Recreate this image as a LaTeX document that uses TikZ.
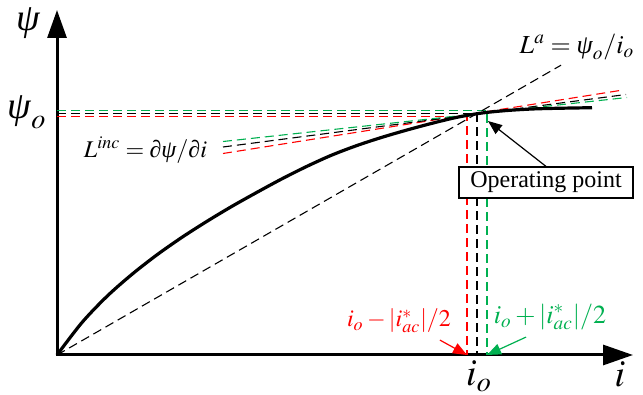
\documentclass[tikz,border=0pt]{standalone}
\usepackage{mathptmx}
\usepackage[no-math]{fontspec}
\setmainfont{Liberation Serif}
\usetikzlibrary{arrows.meta,calc}

\definecolor{opred}{RGB}{255,0,0}
\definecolor{opgreen}{RGB}{0,176,80}
\newcommand{\ipsi}{\mbox{\itshape ψ}}
\newcommand{\ipartial}{\mbox{\itshape ∂}}

\tikzset{
  axis/.style={line width=1.5pt, {Triangle[length=14pt,width=9.5pt]}-{Triangle[length=15pt,width=10pt]}},
  curve/.style={line width=1.6pt, line join=round},
  guide/.style={dash pattern=on 4.5pt off 2.5pt, line width=0.55pt},
  pointer/.style={line width=0.6pt, -{Triangle[length=7pt,width=5.5pt]}},
  biglbl/.style={font=\fontsize{19}{21}\selectfont},
  eqlbl/.style={font=\fontsize{13}{15}\selectfont},
}

\begin{document}
\begin{tikzpicture}[x=0.5pt,y=-0.5pt]
\useasboundingbox (0,0) rectangle (643,395);

% ===== Axes =====
\coordinate (O) at (57,355);
\coordinate (ytip) at (57,10);
\coordinate (xtip) at (633,355);
\draw[axis] (ytip) -- (O) -- (xtip);
\node[biglbl] (psilbl) at (28,23) {$\ipsi$};
\node[biglbl] (psiolbl) at (27,112) {$\ipsi_o$};
\node[biglbl] (iolbl) at (479,376) {$i_o$};
\node[biglbl] (ilbl) at (620,374) {$i$};

% ===== Operating points =====
\coordinate (Pm) at (467,116.5);
\coordinate (P) at (477,113.5);
\coordinate (Pp) at (487,110.5);

% ===== Guides to the axes =====
\draw[guide, opred] (Pm -| O) -- (Pm) -- (Pm |- O);
\draw[guide] (P -| O) -- (P) -- (P |- O);
\draw[guide, opgreen] (Pp -| O) -- (Pp) -- (Pp |- O);

% ===== Secant and tangents =====
\draw[guide] (O) -- ($(O)!1.2!(P)$);
\draw[guide, opred] (223,153.5) -- (623,90);
\draw[guide] (223,147) -- (626,94.5);
\draw[guide, opgreen] (223,141.5) -- (627,97.5);
\node[eqlbl, anchor=east, font=\fontsize{12}{14}\selectfont] (Linclbl) at (214,150) {$L^{inc}=\ipartial\ipsi/\ipartial i$};
\node[eqlbl] (Lalbl) at (577,47) {$L^{a}=\ipsi_o/i_o$};

% ===== Magnetisation curve =====
\draw[curve] plot[smooth, tension=0.5] coordinates {
  (57,355) (82,322.5) (107,296.3) (132,274.3) (157,254.8) (182,237.3)
  (207,221.3) (232,206.3) (257,192.3) (282,178.8) (307,166.3) (332,155)
  (357,145.5) (382,137.3) (407,130) (432,123.3) (457,117.3) (482,113)
  (507,110.5) (532,109) (557,108.3) (592,107.7)};

% ===== Operating point box =====
\node[draw, fill=white, line width=0.6pt, font=\fontsize{12}{14}\selectfont,
      minimum width=87pt, minimum height=15.5pt, inner sep=0pt]
  (opbox) at (546,182.5) {Operating point};
\coordinate (optip) at (488,121);
\draw[pointer] (opbox.north) -- (optip);

% ===== Ripple bounds =====
\node[eqlbl, opred, font=\fontsize{12}{14}\selectfont] (redlbl) at (399,321) {$i_o-|i^{*}_{ac}|/2$};
\node[eqlbl, opgreen] (greenlbl) at (550,317) {$i_o+|i^{*}_{ac}|/2$};
\draw[pointer, opred] (redlbl.-25) -- (Pm |- O);
\draw[pointer, opgreen] (greenlbl.-140) -- (Pp |- O);

\end{tikzpicture}
\end{document}
